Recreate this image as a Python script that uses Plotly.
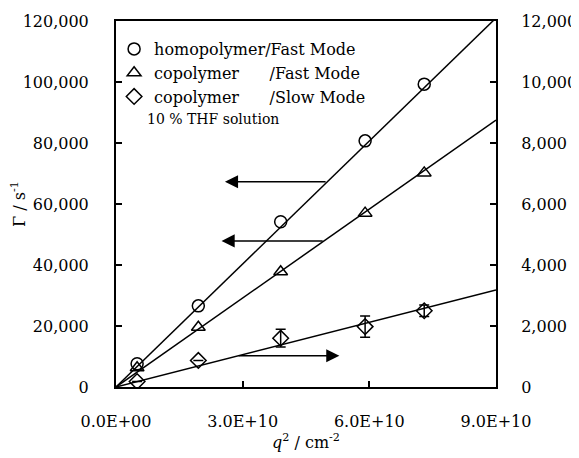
import plotly.graph_objects as go

# ---- data ----
q2 = [0.5e10, 1.95e10, 3.9e10, 5.9e10, 7.3e10]
homo_fast = [7600, 26600, 54200, 80700, 99300]          # left axis
co_fast = [6300, 19600, 37800, 57000, 70200]            # left axis
co_slow = [180, 870, 1600, 1980, 2500]                  # right axis
co_slow_err = [0, 0, 290, 350, 190]

fit_x = [0, 9.0e10]
homo_fit = [0, 121000]
co_fast_fit = [0, 87500]
co_slow_fit = [0, 3185]

x_tickvals = [0, 3e10, 6e10, 9e10]
x_ticktext = ["0.0E+00", "3.0E+10", "6.0E+10", "9.0E+10"]

# arrows: (tip x, tail x, y, axis)
arrows = [
    (2.58e10, 5.0e10, 67300, "y"),
    (2.50e10, 4.93e10, 47900, "y"),
    (5.29e10, 2.87e10, 1025, "y2"),
]

FONT = "DejaVu Serif, serif"
fig = go.Figure()

line_style = dict(color="black", width=1.5)
fig.add_trace(go.Scatter(x=fit_x, y=homo_fit, mode="lines", line=line_style, showlegend=False, hoverinfo="skip"))
fig.add_trace(go.Scatter(x=fit_x, y=co_fast_fit, mode="lines", line=line_style, showlegend=False, hoverinfo="skip"))
fig.add_trace(go.Scatter(x=fit_x, y=co_slow_fit, mode="lines", line=line_style, showlegend=False,
                         hoverinfo="skip", yaxis="y2"))

mk_line = dict(color="black", width=1.5)
fig.add_trace(go.Scatter(x=q2, y=homo_fast, mode="markers", name="homopolymer/Fast Mode",
                         marker=dict(symbol="circle-open", size=12, color="black", line=mk_line)))
fig.add_trace(go.Scatter(x=q2, y=co_fast, mode="markers",
                         name="copolymer\u00a0\u00a0\u00a0\u00a0\u00a0\u00a0/Fast Mode",
                         marker=dict(symbol="triangle-up-open", size=12, color="black", line=mk_line)))
fig.add_trace(go.Scatter(x=q2, y=co_slow, mode="markers", yaxis="y2",
                         name="copolymer\u00a0\u00a0\u00a0\u00a0\u00a0\u00a0/Slow Mode",
                         marker=dict(symbol="diamond-open", size=12, color="black", line=mk_line),
                         error_y=dict(type="data", array=co_slow_err, visible=True, color="black",
                                      thickness=1.5, width=5)))

annotations = []
for tip, tail, yv, ax_ in arrows:
    annotations.append(dict(x=tip, y=yv, ax=tail, ay=yv, xref="x", yref=ax_, axref="x", ayref=ax_,
                            text="", showarrow=True, arrowhead=2, arrowsize=1.75, arrowwidth=1.5,
                            arrowcolor="black", standoff=0, startstandoff=0))
annotations.append(dict(x=0.077, y=0.731, xref="paper", yref="paper", xanchor="left", yanchor="middle",
                        text="10 % THF solution", showarrow=False, font=dict(family=FONT, size=14, color="black")))

axis_common = dict(showgrid=False, zeroline=False, showline=True, linecolor="black", linewidth=2,
                   ticks="inside", ticklen=6, tickwidth=1.5, tickcolor="black", automargin=False,
                   tickfont=dict(family=FONT, size=16, color="black"))

fig.update_layout(
    width=571, height=450,
    margin=dict(l=108, r=83, t=13, b=71),
    paper_bgcolor="white", plot_bgcolor="white",
    font=dict(family=FONT, size=16, color="black"),
    xaxis=dict(range=[0, 9e10], tickvals=x_tickvals, ticktext=x_ticktext, mirror=True,
               ticklabelstandoff=19,
               title=dict(text="<i>q</i><sup>2</sup> / cm<sup>-2</sup>", font=dict(family=FONT, size=16),
                          standoff=0),
               **axis_common),
    yaxis=dict(range=[0, 120000], dtick=20000, tickformat=",d", ticklabelstandoff=22,
               title=dict(text="Γ / s<sup>-1</sup>", font=dict(family=FONT, size=16), standoff=6),
               **axis_common),
    yaxis2=dict(range=[0, 12000], dtick=2000, tickformat=",d", overlaying="y", side="right",
                ticklabelstandoff=20, **axis_common),
    legend=dict(x=-0.005, y=0.97, xanchor="left", yanchor="top", bgcolor="rgba(0,0,0,0)",
                font=dict(family=FONT, size=16, color="black"), itemwidth=30, tracegroupgap=0),
    annotations=annotations,
    showlegend=True,
)

fig.write_html("out.html")
